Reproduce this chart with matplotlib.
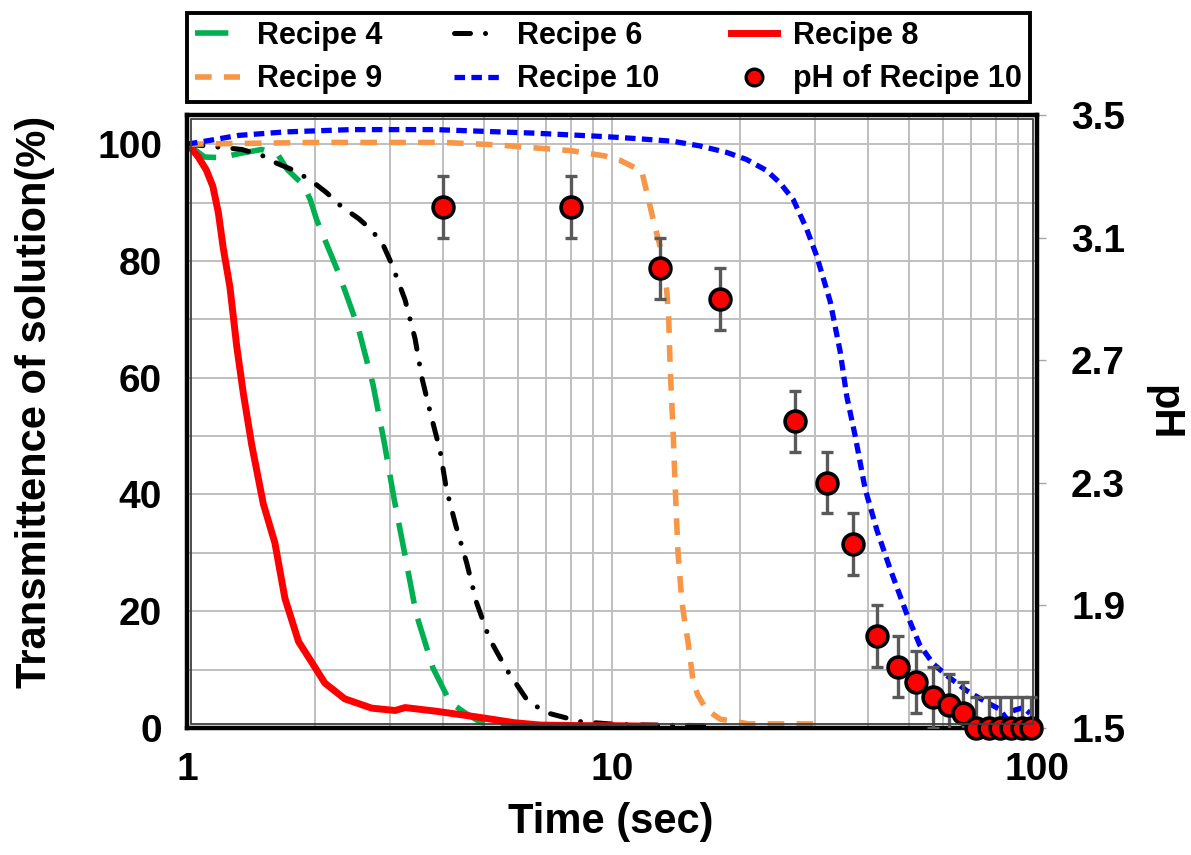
import matplotlib
matplotlib.use('Agg')
import matplotlib.pyplot as plt
from matplotlib.ticker import MultipleLocator, NullFormatter, LogLocator
from matplotlib.lines import Line2D
from matplotlib.patches import Rectangle

plt.rcParams['font.family'] = ['Liberation Sans', 'DejaVu Sans']
plt.rcParams['font.weight'] = 'bold'

# ---------------- data ----------------
r4_t = [1.0, 1.05, 1.10, 1.2, 1.35, 1.5, 1.64, 1.72, 1.80, 1.88, 1.95, 2.02, 2.28, 2.53, 2.74,
        2.91, 3.07, 3.26, 3.46, 3.79, 4.16, 4.51, 4.9, 5.5, 6.5, 8.7]
r4_T = [100, 98.9, 97.8, 97.7, 98.5, 99.1, 98.1, 95.7, 94.3, 93.0, 90.5, 87, 77.7, 68.5, 58.8,
        49, 39.3, 29.5, 19.6, 10.3, 4.4, 2.6, 1.0, 0.3, 0.1, 0.1]

r6_t = [1.0, 1.15, 1.345, 1.50, 1.63, 1.80, 1.98, 2.13, 2.31, 2.53, 2.72, 2.90, 3.03, 3.14, 3.26,
        3.44, 3.57, 3.74, 3.94, 4.08, 4.29, 4.55, 4.80, 5.14, 5.65, 6.34, 7.03, 8.41, 10.3, 12.6, 17.3]
r6_T = [100, 99.6, 99.1, 98.1, 96.7, 95.4, 93.5, 91.7, 89.3, 87.3, 85.3, 82.6, 79.5, 76.5, 73.3,
        66.7, 60, 53.9, 47.5, 40.8, 34.7, 28.3, 21.5, 15.4, 10, 4.6, 2.6, 1.1, 0.6, 0.5, 0.4]

r8_t = [1.0, 1.016, 1.063, 1.11, 1.15, 1.185, 1.217, 1.262, 1.309, 1.357, 1.42, 1.512, 1.61,
        1.70, 1.83, 1.96, 2.11, 2.35, 2.72, 3.09, 3.26, 3.83, 4.8, 5.9, 6.8, 8.5, 10.0, 12.6]
r8_T = [100, 99.6, 97.8, 95.6, 92.8, 88.3, 82.2, 75.5, 65.4, 57.3, 48.5, 38.4, 31.7,
        22.2, 14.8, 11.4, 7.7, 5.0, 3.4, 3.0, 3.5, 2.9, 1.9, 0.9, 0.5, 0.4, 0.4, 0.3]

r9_t = [1.0, 2.0, 4.0, 5.3, 6.5, 8.0, 9.6, 10.4, 11.75, 12.5, 13.2, 13.45, 13.6, 13.7, 13.94,
        14.07, 14.3, 14.6, 14.85, 15.1, 15.5, 15.9, 16.7, 18.0, 21.0, 31.0]
r9_T = [100, 100.3, 100.3, 99.9, 99.4, 98.9, 98.0, 97.3, 95.4, 87.1, 80.4, 75, 70, 62, 50,
        42, 30, 21.7, 17.9, 14.7, 8.3, 5.7, 3.1, 1.5, 0.7, 0.7]

r10_t = [1.0, 1.10, 1.32, 1.70, 2.44, 3.83, 6.52, 9.63, 11.2, 13.9, 16.1, 18.6, 20.7, 23.1, 24.9,
         26.7, 28.7, 30.3, 32.6, 34.4, 35.7, 37.3, 39.4, 42.0, 45.1, 49.4, 53.0, 57.0, 61.3,
         68.3, 76.1, 81.8, 84.9, 88.0, 92.9, 96.3]
r10_T = [100, 100.5, 101.5, 102.1, 102.5, 102.5, 101.9, 101.3, 101, 100.5, 99.7, 98.6, 97.4, 95.5, 93.3,
         90.5, 85.5, 80.9, 73.1, 64.6, 56.7, 50.2, 41, 33.9, 27.3, 19.5, 14.2, 11, 9,
         6.4, 4.4, 3.2, 1.5, 3.0, 3.5, 2.5]

ph_t = [4, 8, 13, 18, 27, 32, 37, 42, 47, 52, 57, 62, 67, 72, 77, 82, 87, 92, 97]
ph_v = [3.2, 3.2, 3.0, 2.9, 2.5, 2.3, 2.1, 1.8, 1.7, 1.65, 1.6, 1.575, 1.55, 1.5, 1.5, 1.5, 1.5, 1.5, 1.5]
ph_err = [0.1] * 19

x_ticks = [1, 10, 100]
x_labels = ['1', '10', '100']
y_ticks = [0, 20, 40, 60, 80, 100]
ph_ticks = [1.5, 1.9, 2.3, 2.7, 3.1, 3.5]
ph_labels = ['1.5', '1.9', '2.3', '2.7', '3.1', '3.5']

# ---------------- figure ----------------
W, H = 1191, 855
fig = plt.figure(figsize=(W / 100, H / 100), dpi=100)
L, R, T, B = 187, 1037, 115, 728
ax = fig.add_axes([L / W, 1 - B / H, (R - L) / W, (B - T) / H])

ax.set_xscale('log')
ax.set_xlim(1, 100)
ax.set_ylim(0, 105)

c_green = '#00B050'
c_orange = '#F79646'
c_red = '#FF0000'
c_blue = '#0000FF'

l4, = ax.plot(r4_t, r4_T, color=c_green, lw=4.0, dashes=(6.0, 2.8), label='Recipe 4', zorder=3)
l6, = ax.plot(r6_t, r6_T, color='black', lw=3.6, dashes=(3.2, 3.0, 0.01, 3.0),
              dash_capstyle='round', label='Recipe 6', zorder=3)
l8, = ax.plot(r8_t, r8_T, color=c_red, lw=5.0, label='Recipe 8', zorder=3)
l9, = ax.plot(r9_t, r9_T, color=c_orange, lw=4.0, dashes=(3.0, 2.2), label='Recipe 9', zorder=3)
l10, = ax.plot(r10_t, r10_T, color=c_blue, lw=3.8, dashes=(2.0, 1.2), label='Recipe 10', zorder=3)

ax.set_xticks(x_ticks)
ax.set_xticklabels(x_labels)
ax.xaxis.set_minor_locator(LogLocator(base=10, subs=range(2, 10)))
ax.xaxis.set_minor_formatter(NullFormatter())
ax.set_yticks(y_ticks)
ax.yaxis.set_minor_locator(MultipleLocator(10))
ax.tick_params(axis='both', which='both', length=0)
ax.tick_params(axis='y', labelsize=28, pad=18)
ax.tick_params(axis='x', labelsize=28, pad=17)
ax.grid(True, which='both', color='#BFBFBF', lw=1.4)
ax.set_axisbelow(True)
for s in ax.spines.values():
    s.set_visible(False)

ax2 = ax.twinx()
ax2.set_ylim(1.5, 3.5)
ax2.set_yticks(ph_ticks)
ax2.set_yticklabels(ph_labels)
ax2.tick_params(axis='y', direction='out', length=6.5, width=1, color='#A6A6A6',
                labelsize=28, pad=18)
ax2.errorbar(ph_t, ph_v, yerr=ph_err, fmt='none', ecolor='#595959', elinewidth=2.4,
             capsize=4, capthick=2.4, zorder=4)
ax2.plot(ph_t, ph_v, 'o', ms=15, mfc=c_red, mec='black', mew=2.6, clip_on=False, zorder=5)
for s in ax2.spines.values():
    s.set_color('black')
    s.set_linewidth(3.2)

# inner line of the double frame
ix, iy = 4 / (R - L), 4 / (B - T)
ax2.add_patch(Rectangle((ix, iy), 1 - 2 * ix, 1 - 2 * iy, transform=ax2.transAxes,
                        fill=False, ec='#404040', lw=1.3, zorder=6, clip_on=False))

# labels
fig.text(611 / W, 1 - 822 / H, 'Time (sec)', ha='center', va='center', fontsize=30, fontweight='bold')
fig.text(35 / W, 1 - 402 / H, 'Transmittence of solution(%)', ha='center', va='center',
         rotation=90, fontsize=30, fontweight='bold')
fig.text(1163 / W, 1 - 413 / H, 'pH', ha='center', va='center', rotation=270,
         fontsize=30, fontweight='bold')

# legend
ph_handle = Line2D([], [], marker='o', ls='none', ms=12, mfc=c_red, mec='black', mew=2.4)
handles = [l4, l9, l6, l10, l8, ph_handle]
labels = ['Recipe 4', 'Recipe 9', 'Recipe 6', 'Recipe 10', 'Recipe 8', 'pH of Recipe 10']
leg = fig.legend(handles, labels, ncol=3, mode='expand', loc='center',
                 bbox_to_anchor=(187 / W, 1 - 103 / H, (1030 - 187) / W, 91 / H),
                 fontsize=22, frameon=True, fancybox=False, edgecolor='black',
                 framealpha=1, borderpad=0.25, labelspacing=0.45, handlelength=1.5,
                 handletextpad=0.55, borderaxespad=0.0)
leg.get_frame().set_linewidth(2.8)

fig.savefig('out.png', dpi=100)
